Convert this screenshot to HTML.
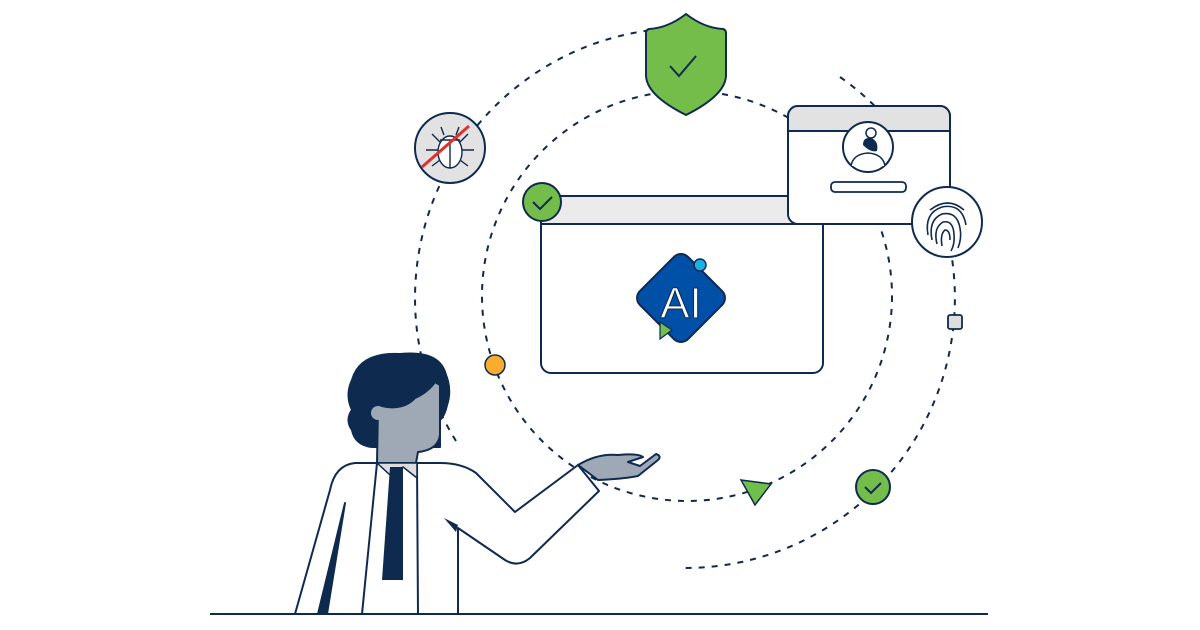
<!DOCTYPE html>
<html><head><meta charset="utf-8"><style>
html,body{margin:0;padding:0;background:#fff;}
svg{display:block}
text{font-family:"Liberation Sans","DejaVu Sans",sans-serif}
</style></head><body>
<svg width="1200" height="630" viewBox="0 0 1200 630" xmlns="http://www.w3.org/2000/svg">
<g fill="none" stroke="#0f2a4f" stroke-width="2" stroke-dasharray="6 7">
  <circle cx="687" cy="296" r="205"/>
  <path d="M840 77 A270 270 0 0 1 685 568"/>
  <path d="M456 441 A270 270 0 0 1 685 28"/>
</g>
<rect x="541" y="196" width="282" height="177" rx="10" fill="#fff" stroke="#0f2a4f" stroke-width="2"/>
<path d="M551 196 H813 a10 10 0 0 1 10 10 V224 H541 V206 a10 10 0 0 1 10-10z" fill="#ebebeb" stroke="#0f2a4f" stroke-width="2"/>
<rect x="647" y="264" width="68" height="68" rx="10" transform="rotate(45 681 298)" fill="#0050a8" stroke="#0f2a4f" stroke-width="2"/>
<text x="681" y="318" text-anchor="middle" font-size="44" fill="#fff" stroke="#0f2a4f" stroke-width="1">AI</text>
<circle cx="700" cy="265" r="6" fill="#1ab0e6" stroke="#0f2a4f" stroke-width="1.5"/>
<path d="M660 322 L672 330 L660 339z" fill="#6fbf4a" stroke="#0f2a4f" stroke-width="1.2"/>
<circle cx="542" cy="202" r="19" fill="#74bd4b" stroke="#0f2a4f" stroke-width="2"/>
<path d="M533 202 l7 7 l12-12" fill="none" stroke="#0f2a4f" stroke-width="2"/>
<rect x="788" y="106" width="162" height="118" rx="10" fill="#fff" stroke="#0f2a4f" stroke-width="2"/>
<path d="M798 106 H940 a10 10 0 0 1 10 10 V131 H788 V116 a10 10 0 0 1 10-10z" fill="#e2e2e2" stroke="#0f2a4f" stroke-width="2"/>
<circle cx="868" cy="147" r="25" fill="#fff" stroke="#0f2a4f" stroke-width="2"/>
<circle cx="871" cy="133" r="5" fill="#fff" stroke="#0f2a4f" stroke-width="1.5"/>
<path d="M851 166 q2-12 17-13 q15 1 17 13" fill="#fff" stroke="#0f2a4f" stroke-width="1.5"/>
<path d="M863 145 q0-8 8-7 q8 3 6 13 q-6 2-14-6z" fill="#0f2a4f"/>
<rect x="831" y="182" width="75" height="10" rx="4" fill="#fff" stroke="#0f2a4f" stroke-width="1.8"/>
<circle cx="947" cy="222" r="35" fill="#fff" stroke="#0f2a4f" stroke-width="2"/>
<g fill="none" stroke="#0f2a4f" stroke-width="1.6">
<path d="M928 235 q-4-22 14-28 q20-4 24 18"/>
<path d="M932 240 q-4-20 10-26 q15-3 18 14 q2 10-2 20"/>
<path d="M937 244 q-4-16 6-22 q10-2 11 12 q1 10-3 17"/>
<path d="M942 246 q-2-12 3-16 q5 0 5 10"/>
<path d="M930 210 q18-14 34 0"/>
</g>
<rect x="948" y="315" width="14" height="14" rx="2" fill="#ddd" stroke="#0f2a4f" stroke-width="1.8"/>
<circle cx="873" cy="487" r="17" fill="#74bd4b" stroke="#0f2a4f" stroke-width="2"/>
<path d="M865 487 l6 6 l10-10" fill="none" stroke="#0f2a4f" stroke-width="2"/>
<path d="M741 480 L771 484 L755 505z" fill="#6fbf4a" stroke="#0f2a4f" stroke-width="1.5"/>
<circle cx="495" cy="365" r="10" fill="#f9ac2e" stroke="#0f2a4f" stroke-width="1.5"/>
<path d="M686 14 q-18 14 -37 15 q-3 1-3 4 v42 q0 20 40 40 q40-20 40-40 v-42 q0-3-3-4 q-19-1-37-15z" fill="#74bd4b" stroke="#0f2a4f" stroke-width="2"/>
<path d="M670 66 l9 10 l17-20" fill="none" stroke="#0f2a4f" stroke-width="2"/>
<circle cx="450" cy="148" r="35" fill="#e2e2e2" stroke="#0f2a4f" stroke-width="2"/>
<g fill="none" stroke="#0f2a4f" stroke-width="1.4">
<ellipse cx="450" cy="152" rx="12" ry="16" fill="#fff"/>
<path d="M440 140 h20 M450 140 v28 M438 150 h-12 M462 150 h12 M440 160 l-8 6 M460 160 l8 6 M440 142 l-8-8 M460 142 l8-8 M444 135 l-3-8 M456 135 l3-8"/>
</g>
<line x1="422" y1="167" x2="469" y2="126" stroke="#e03030" stroke-width="3"/>
<g stroke="#0f2a4f" stroke-width="2" stroke-linejoin="round">
<path d="M372 447 Q355 445 352 430 Q345 420 352 410 Q345 395 352 380 Q360 352 400 354 Q440 350 446 375 Q452 390 447 405 Q445 415 440 420 L440 447z" fill="#0f2a4f"/>
<path d="M378 405 Q402 412 415 398 Q428 392 435 382 L440 385 L440 435 Q438 450 418 452 L416 463 L377 463 Z" fill="#9ea9b5"/>
<circle cx="378" cy="413" r="7" fill="#9ea9b5" stroke="none"/>
<path d="M295 614 L330 490 q5-25 25-27 L440 463 q22 0 36 10 L515 512 L578 465 L599 491 L530 558 q-12 10-25 2 L458 528 L458 614z" fill="#fff"/>
<path d="M578 465 q20-12 40-10 q20-2 25 2 l-15 5 l12 4 l16-12 q6 2 2 6 l-20 16 q-15 3-40 4z" fill="#9ea9b5"/>
<path d="M377 463 L362 614 M417 463 L418 614 M458 530 V614" fill="none"/>
<path d="M377 463 L390 475 L403 467 L417 478 L417 463z" fill="#ddd" stroke-width="1.5"/>
<path d="M390 467 L403 467 L403 580 L382 580z" fill="#0f2a4f" stroke="none"/>
<path d="M345 503 L327 614 L318 614z" fill="#0f2a4f"/>
<path d="M444 518 L458 525 L456 532z" fill="#0f2a4f" stroke="none"/>
</g>
<line x1="210" y1="614" x2="988" y2="614" stroke="#0f2a4f" stroke-width="2"/>
</svg>
</body></html>
